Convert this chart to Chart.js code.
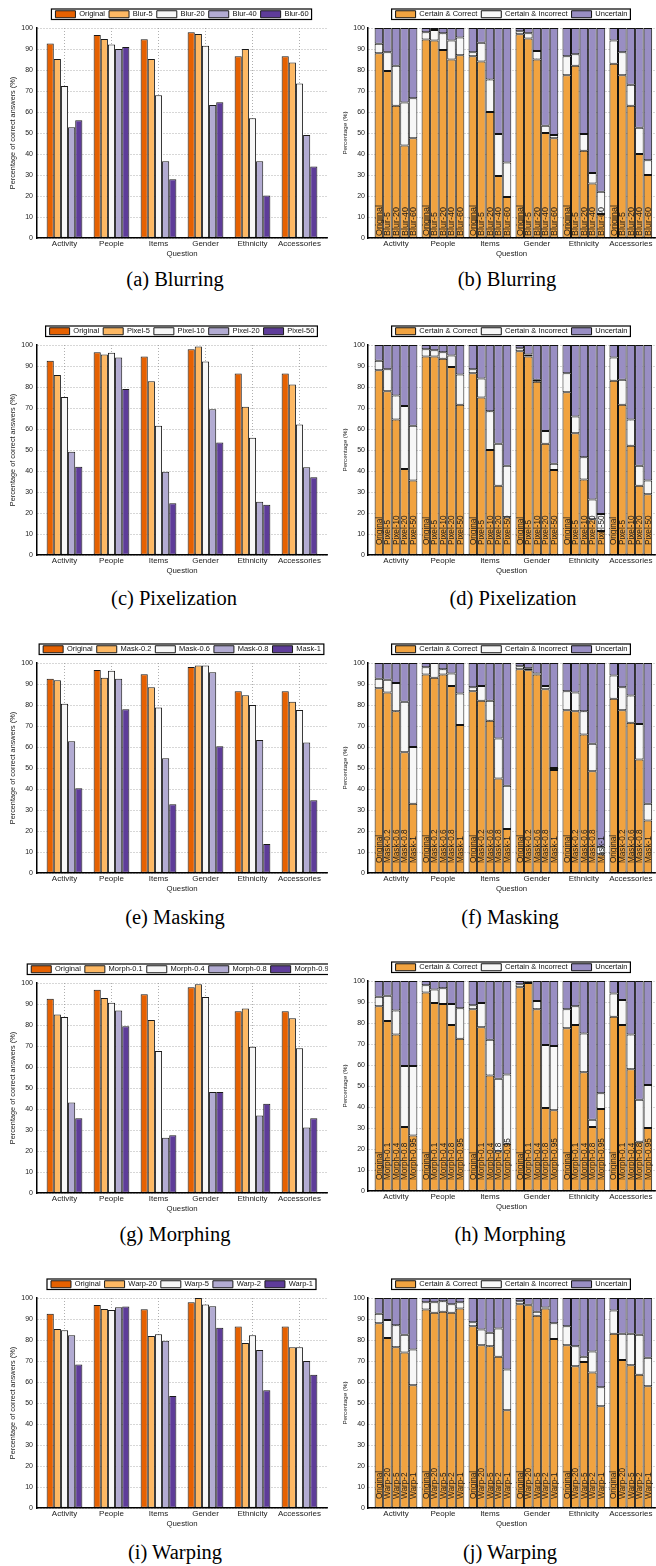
<!DOCTYPE html>
<html>
<head>
<meta charset="utf-8">
<script src="https://cdn.jsdelivr.net/npm/chart.js@4.4.1/dist/chart.umd.min.js"></script>
<style>
html, body { margin: 0; padding: 0; background: #fff; }
#page { position: relative; width: 656px; height: 1566px; overflow: hidden; background: #fff; }
canvas { position: absolute; }
.cap { position: absolute; font-family: "Liberation Serif", "Times New Roman", serif; font-size: 20.5px; line-height: 1; color: #000; white-space: nowrap; transform: translate(-50%, -50%); }
</style>
</head>
<body>
<div id="page"></div>
<script>
// ---------------- data ----------------
const categories = ['Activity', 'People', 'Items', 'Gender', 'Ethnicity', 'Accessories'];
const yTickStep = 10;
const componentLabels = ['Certain & Correct', 'Certain & Incorrect', 'Uncertain'];

const blurLabels  = ['Original', 'Blur-5', 'Blur-20', 'Blur-40', 'Blur-60'];
const pixelLabels = ['Original', 'Pixel-5', 'Pixel-10', 'Pixel-20', 'Pixel-50'];
const maskLabels  = ['Original', 'Mask-0.2', 'Mask-0.6', 'Mask-0.8', 'Mask-1'];
const morphLabels = ['Original', 'Morph-0.1', 'Morph-0.4', 'Morph-0.8', 'Morph-0.95'];
const warpLabels  = ['Original', 'Warp-20', 'Warp-5', 'Warp-2', 'Warp-1'];

// Percentage of correct answers (rows = variants, columns = categories)
const blurAccuracy = [
  [92.6, 96.7, 94.7, 98.0, 86.5, 86.5],
  [85.3, 94.8, 85.3, 97.1, 90.0, 83.6],
  [72.4, 92.1, 68.0, 91.5, 57.0, 73.6],
  [52.8, 90.0, 36.6, 63.3, 36.6, 49.1],
  [56.1, 90.9, 28.0, 64.6, 20.2, 34.1]
];
const pixelAccuracy = [
  [92.5, 96.6, 94.5, 98.0, 86.4, 86.4],
  [85.7, 95.5, 82.8, 99.3, 70.6, 81.2],
  [75.3, 96.3, 61.6, 92.1, 55.8, 62.2],
  [49.2, 94.1, 39.6, 69.4, 25.4, 41.8],
  [42.0, 79.0, 24.6, 53.6, 24.0, 37.0]
];
const maskAccuracy = [
  [92.5, 96.7, 94.7, 98.1, 86.5, 86.5],
  [91.8, 93.0, 88.5, 98.8, 84.7, 81.5],
  [80.6, 96.3, 78.8, 98.8, 80.0, 77.6],
  [62.8, 92.5, 54.7, 95.6, 63.3, 62.2],
  [40.4, 78.0, 32.8, 60.4, 13.8, 34.7]
];
const morphAccuracy = [
  [92.5, 96.8, 94.6, 98.0, 86.5, 86.5],
  [85.0, 92.9, 82.4, 99.4, 87.8, 83.2],
  [83.8, 90.6, 67.6, 93.3, 69.6, 68.9],
  [43.1, 86.9, 26.3, 48.1, 36.9, 31.2],
  [35.6, 79.4, 27.5, 48.1, 42.5, 35.6]
];
const warpAccuracy = [
  [92.5, 96.7, 94.6, 98.0, 86.4, 86.4],
  [85.2, 94.8, 81.9, 100.0, 78.6, 76.6],
  [84.6, 94.3, 82.8, 96.9, 82.3, 76.6],
  [82.3, 95.6, 79.6, 96.1, 75.3, 70.0],
  [68.3, 96.0, 53.3, 85.8, 56.1, 63.5]
];

// Stacked answer breakdown (rows = variants, columns = categories)
const blurCorrect = [
  [88, 94.5, 86.5, 97, 77.5, 83],
  [79.5, 94, 84, 95, 82, 77.5],
  [63, 89.5, 60, 85, 41.5, 63],
  [44, 85, 29.5, 50, 26, 40],
  [47.5, 87, 19.5, 47.5, 11.5, 30]
];
const blurIncorrect = [
  [4.5, 3.5, 2, 1.5, 9, 11],
  [9, 5, 9, 2.5, 5.5, 11],
  [19, 8, 15.5, 4, 8, 10],
  [20.5, 9, 20, 3.5, 5, 12.5],
  [19, 8.5, 16.5, 1.5, 10.5, 7]
];
const blurUncertain = [
  [7.5, 2, 11.5, 1.5, 13.5, 6],
  [11.5, 1, 7, 2.5, 12.5, 11.5],
  [18, 2.5, 24.5, 11, 50.5, 27],
  [35.5, 6, 50.5, 46.5, 69, 47.5],
  [33.5, 4.5, 64, 51, 78, 63]
];

const pixelCorrect = [
  [88, 94.5, 86.5, 97, 77.5, 83],
  [78, 94.5, 75, 94.5, 58, 71.5],
  [64.5, 93.5, 50, 82.5, 36, 52],
  [41, 89.5, 33, 53, 17, 33],
  [35.5, 71.5, 18, 40.5, 11.5, 29]
];
const pixelIncorrect = [
  [4.5, 3.5, 2, 1.5, 9, 11],
  [10.5, 3, 9, 1, 8, 12],
  [11.5, 3, 18.5, 1, 10.5, 12.5],
  [30, 5.5, 20, 6, 9.5, 9.5],
  [26, 14.5, 24.5, 3, 8, 6.5]
];
const pixelUncertain = [
  [7.5, 2, 11.5, 1.5, 13.5, 6],
  [11.5, 2.5, 16, 4.5, 34, 16.5],
  [24, 3.5, 31.5, 16.5, 53.5, 35.5],
  [29, 5, 47, 41, 73.5, 57.5],
  [38.5, 14, 57.5, 56.5, 80.5, 64.5]
];

const maskCorrect = [
  [88, 94.5, 86.5, 97, 77.5, 83],
  [86, 93, 82, 96.5, 77, 77.5],
  [77, 94.5, 72.5, 94.5, 66, 71.5],
  [57.5, 89, 45, 87.5, 48.5, 54],
  [33, 70.5, 21, 49, 9, 25]
];
const maskIncorrect = [
  [4.5, 3.5, 2, 1.5, 9, 11],
  [6, 7, 7, 1, 9, 11],
  [13.5, 2.5, 9.5, 0.5, 11, 13],
  [24, 6, 19, 1.5, 13, 17],
  [27, 15, 20.5, 1, 3.5, 8]
];
const maskUncertain = [
  [7.5, 2, 11.5, 1.5, 13.5, 6],
  [8, 0, 11, 2.5, 14, 11.5],
  [9.5, 3, 18, 5, 23, 15.5],
  [18.5, 5, 36, 11, 38.5, 29],
  [40, 14.5, 58.5, 50, 87.5, 67]
];

const morphCorrect = [
  [88, 94.5, 86.5, 97, 77.5, 83],
  [81, 89.5, 78, 99, 79, 79],
  [74.5, 89, 55, 86.5, 56.5, 58],
  [30.5, 79, 19, 39.5, 30.5, 23.5],
  [26.5, 72.5, 22.5, 38.5, 39, 30]
];
const morphIncorrect = [
  [4.5, 3.5, 2, 1.5, 9, 11],
  [12, 6.5, 11.5, 0.7, 9, 12],
  [11.5, 7.5, 17, 4, 18.5, 16.5],
  [29, 10, 34.5, 30, 3.5, 20],
  [33, 14.5, 33, 30.5, 7.5, 20.5]
];
const morphUncertain = [
  [7.5, 2, 11.5, 1.5, 13.5, 6],
  [7, 4, 10.5, 0.3, 12, 9],
  [14, 3.5, 28, 9.5, 25, 25.5],
  [40.5, 11, 46.5, 30.5, 66, 56.5],
  [40.5, 13, 44.5, 31, 53.5, 49.5]
];

const warpCorrect = [
  [88, 94.5, 86.5, 97, 77.5, 83],
  [81, 93, 77.5, 96.5, 67.5, 70.5],
  [76.5, 93.5, 77, 91.5, 69.5, 68],
  [74, 93, 72, 95, 64.5, 63.5],
  [58.5, 95, 46.5, 80.5, 48.5, 58]
];
const warpIncorrect = [
  [4.5, 3.5, 2, 1.5, 9, 11],
  [8.5, 5, 7.5, 0.3, 9.5, 12.5],
  [10.5, 5, 6.5, 2, 2.5, 15],
  [8.5, 4, 13.5, 0.5, 10, 19],
  [17, 3, 19.5, 7.5, 9, 13.5]
];
const warpUncertain = [
  [7.5, 2, 11.5, 1.5, 13.5, 6],
  [10.5, 2, 15, 3.2, 23, 17],
  [13, 1.5, 16.5, 6.5, 28, 17],
  [17.5, 3, 14.5, 4.5, 25.5, 17.5],
  [24.5, 2, 34, 12, 42.5, 28.5]
];

// ---------------- styling ----------------
const FONT = '"Liberation Sans", Arial, Helvetica, sans-serif';
const groupColors = ['#e66101', '#fdb863', '#f7f7f7', '#b2abd2', '#5e3c99'];
const stackColors = ['#f1a340', '#f7f7f7', '#998ec3'];
const TEXT = '#222';
const GRID = '#9a9a9a';
const CANVAS_W = 328, CANVAS_H = 264;

Chart.defaults.font.family = FONT;
Chart.defaults.color = TEXT;

const legendFrame = {
  id: 'legendFrame',
  afterLayout(chart) {
    const lg = chart.legend;
    if (!lg) return;
    const ca = chart.chartArea;
    const cx = (ca.left + ca.right) / 2;
    lg.left = cx - 200; lg.right = cx + 200; lg.width = 400;
    if (lg.adjustHitBoxes) lg.adjustHitBoxes();
  },
  afterDraw(chart) {
    const lg = chart.legend;
    if (!lg || !lg.lineWidths) return;
    const pad = 4, fs = 7.5, bh = 7;
    const lw = lg.lineWidths[0];
    const start = (lg.left + pad + lg.right - lw) / 2;
    const w = lw - pad;
    const ih = Math.max(fs, bh);
    const y = lg.top + pad;
    const ctx = chart.ctx;
    ctx.save();
    ctx.strokeStyle = '#000';
    ctx.lineWidth = 1.2;
    ctx.strokeRect(start - 4, y - 1.5, w + 7, ih + 3);
    ctx.restore();
  }
};

const barNames = {
  id: 'barNames',
  afterDatasetsDraw(chart, args, opts) {
    if (!opts || !opts.names) return;
    const ctx = chart.ctx;
    const base = chart.scales.y.getPixelForValue(0);
    ctx.save();
    ctx.font = opts.size + 'px ' + FONT;
    ctx.fillStyle = '#1a1a1a';
    ctx.textAlign = 'left';
    ctx.textBaseline = 'middle';
    opts.names.forEach((name, v) => {
      chart.getDatasetMeta(v * 3).data.forEach(el => {
        ctx.save();
        ctx.translate(el.x, base - opts.offset);
        ctx.rotate(-Math.PI / 2);
        ctx.fillText(name, 0, 0.5);
        ctx.restore();
      });
    });
    ctx.restore();
  }
};

function makeCanvas(left, top) {
  const c = document.createElement('canvas');
  c.width = CANVAS_W; c.height = CANVAS_H;
  c.style.left = left + 'px'; c.style.top = top + 'px';
  c.style.width = CANVAS_W + 'px'; c.style.height = CANVAS_H + 'px';
  document.getElementById('page').appendChild(c);
  return c;
}

function addCaption(text, cx, cy) {
  const d = document.createElement('div');
  d.className = 'cap';
  d.textContent = text;
  d.style.left = cx + 'px'; d.style.top = cy + 'px';
  document.getElementById('page').appendChild(d);
}

function baseScales(xMin, xMax, yWidth, yTitle, yTitleSize, yTitlePad, yTickPad, stacked) {
  return {
    x: {
      type: 'linear', min: xMin, max: xMax, offset: false, stacked: stacked ? true : undefined,
      ticks: {
        stepSize: 1, includeBounds: false, autoSkip: false, maxRotation: 0, minRotation: 0,
        padding: 1, color: TEXT, font: { family: FONT, size: 8 },
        callback: v => (Number.isInteger(v) && categories[v - 1]) ? categories[v - 1] : ''
      },
      grid: { color: GRID, lineWidth: 0.8, drawTicks: false, offset: false },
      border: { display: true, color: '#000', width: 1.5, dash: [1, 2], z: 1 },
      title: { display: true, text: 'Question', color: TEXT, font: { family: FONT, size: 7.8 }, padding: { top: 0, bottom: 4 } }
    },
    y: {
      min: 0, max: 100, stacked: stacked,
      ticks: { stepSize: yTickStep, padding: yTickPad, color: TEXT, font: { family: FONT, size: 7 } },
      grid: { color: GRID, lineWidth: 0.8, drawTicks: false },
      border: { display: true, color: '#000', width: 1.5, dash: [1, 2], z: 1 },
      title: { display: true, text: yTitle, color: TEXT, font: { family: FONT, size: yTitleSize }, padding: { top: yTitlePad, bottom: 0 } },
      afterFit: s => { s.width = yWidth; }
    }
  };
}

function legendOpts(filter) {
  return {
    display: true, position: 'top', align: 'center',
    labels: {
      boxWidth: 20, boxHeight: 7, padding: 4, color: '#111',
      font: { family: FONT, size: 7.5 },
      filter: filter
    }
  };
}

function groupedChart(left, top, labels, values) {
  const datasets = labels.map((lab, v) => ({
    label: lab,
    data: values[v].map((y, j) => ({ x: j + 1, y: y })),
    backgroundColor: groupColors[v],
    borderColor: '#1a1a1a',
    borderWidth: 1,
    borderSkipped: false,
    categoryPercentage: 0.76,
    barPercentage: 1.0
  }));
  new Chart(makeCanvas(left, top), {
    type: 'bar',
    data: { datasets: datasets },
    options: {
      responsive: false, animation: false, devicePixelRatio: 1,
      layout: { padding: { top: 6.5, left: 0, right: 1, bottom: 1 } },
      plugins: { legend: legendOpts(), tooltip: { enabled: false } },
      scales: baseScales(0.415, 6.585, 37, 'Percentage of correct answers (%)', 7.3, 8.6, 4, false)
    },
    plugins: [legendFrame]
  });
}

function stackedChart(left, top, labels, correct, incorrect, uncertain, nameOffset, nameSize) {
  const parts = [correct, incorrect, uncertain];
  const datasets = [];
  labels.forEach((lab, v) => {
    parts.forEach((arr, k) => {
      datasets.push({
        label: componentLabels[k],
        stack: 'v' + v,
        data: arr[v].map((y, j) => ({ x: j + 1, y: y })),
        backgroundColor: stackColors[k],
        borderColor: '#111',
        borderWidth: 1,
        borderSkipped: false,
        categoryPercentage: 0.91,
        barPercentage: 1.0
      });
    });
  });
  new Chart(makeCanvas(left, top), {
    type: 'bar',
    data: { datasets: datasets },
    options: {
      responsive: false, animation: false, devicePixelRatio: 1,
      layout: { padding: { top: 6.5, left: 0, right: 1, bottom: 1 } },
      plugins: {
        legend: legendOpts(item => item.datasetIndex < 3),
        tooltip: { enabled: false },
        barNames: { names: labels, offset: nameOffset, size: nameSize }
      },
      scales: baseScales(0.404, 6.515, 40, 'Percentage (%)', 6.2, 13.4, 3, true)
    },
    plugins: [legendFrame, barNames]
  });
}

// ---------------- build page ----------------
const rowTops = [0, 317, 635, 955, 1270];
const capY = [279, 598, 917, 1234, 1552];

groupedChart(0, rowTops[0], blurLabels, blurAccuracy);
stackedChart(328, rowTops[0], blurLabels, blurCorrect, blurIncorrect, blurUncertain, 2, 9);
groupedChart(0, rowTops[1], pixelLabels, pixelAccuracy);
stackedChart(328, rowTops[1], pixelLabels, pixelCorrect, pixelIncorrect, pixelUncertain, 10, 8.2);
groupedChart(0, rowTops[2], maskLabels, maskAccuracy);
stackedChart(328, rowTops[2], maskLabels, maskCorrect, maskIncorrect, maskUncertain, 10, 8.2);
groupedChart(0, rowTops[3], morphLabels, morphAccuracy);
stackedChart(328, rowTops[3] - 2, morphLabels, morphCorrect, morphIncorrect, morphUncertain, 11, 8.2);
groupedChart(0, rowTops[4], warpLabels, warpAccuracy);
stackedChart(328, rowTops[4], warpLabels, warpCorrect, warpIncorrect, warpUncertain, 9, 8.2);

addCaption('(a) Blurring', 175, capY[0]);
addCaption('(b) Blurring', 507, capY[0]);
addCaption('(c) Pixelization', 174, capY[1]);
addCaption('(d) Pixelization', 513, capY[1]);
addCaption('(e) Masking', 175, capY[2]);
addCaption('(f) Masking', 510, capY[2]);
addCaption('(g) Morphing', 175, capY[3]);
addCaption('(h) Morphing', 510, capY[3]);
addCaption('(i) Warping', 175, capY[4]);
addCaption('(j) Warping', 510, capY[4]);
</script>
</body>
</html>
